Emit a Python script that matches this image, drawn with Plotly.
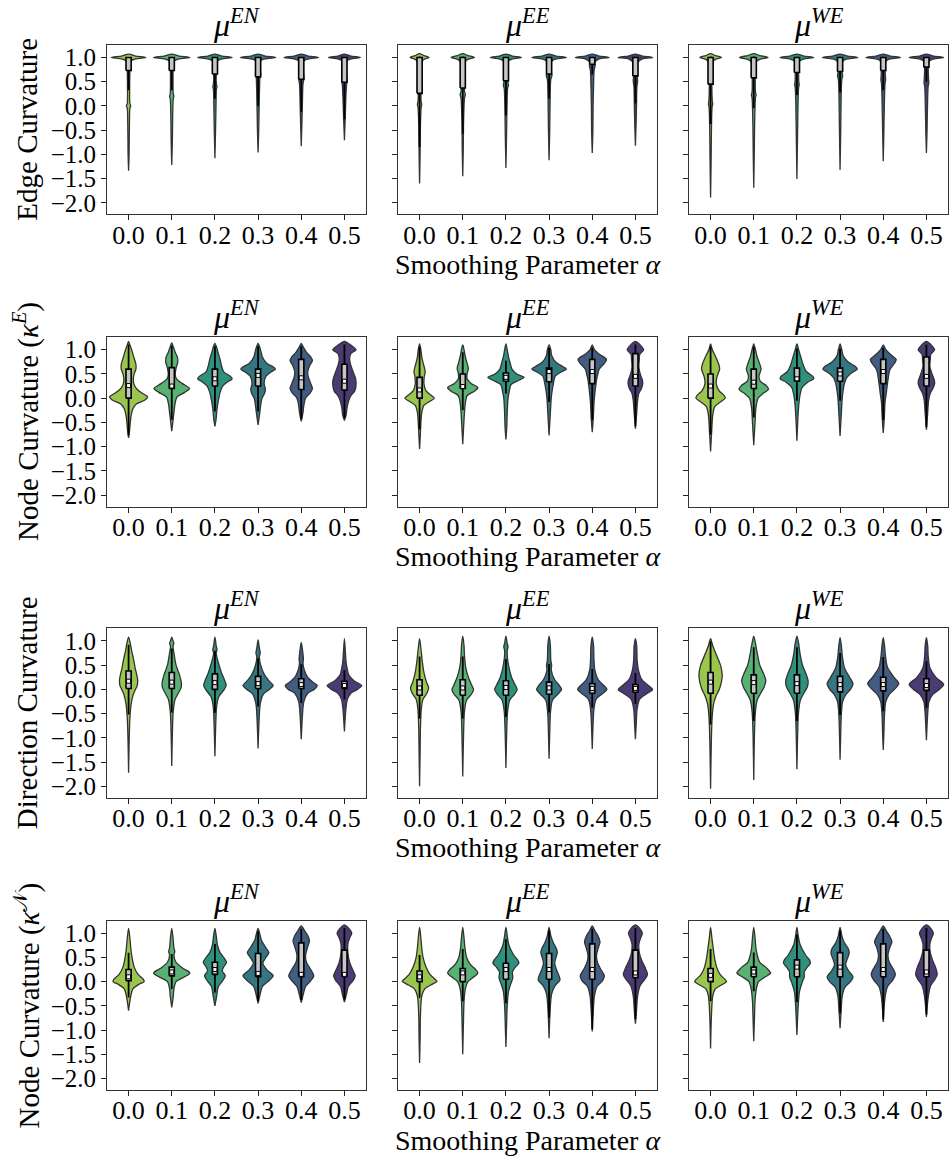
import colorsys
import plotly.graph_objects as go

W, H = 950, 1157

# ---------------- data ----------------
alphas = ["0.0", "0.1", "0.2", "0.3", "0.4", "0.5"]
row_labels = ["Edge Curvature", "Node Curvature (<i>κ</i><sup><i>E</i></sup>)",
              "Direction Curvature", "Node Curvature (<i>κ</i><sup>𝒩</sup>)"]
col_titles = ["<i>μ</i><sup><i>EN</i></sup>", "<i>μ</i><sup><i>EE</i></sup>", "<i>μ</i><sup><i>WE</i></sup>"]
ytick_vals = [-2.0, -1.5, -1.0, -0.5, 0.0, 0.5, 1.0]
ytick_text = ["−2.0", "−1.5", "−1.0", "−0.5", "0.0", "0.5", "1.0"]
base_palette = ["#a0da39", "#4ac16d", "#1fa187", "#277f8e", "#365c8d", "#46327e"]

# density profiles: (value, half-width) knots, top to bottom; quartiles [q1, median, q3]
edge_en_knots = [
    [(1.07,0),(1.03,0.16),(1.0,0.40),(0.97,0.16),(0.93,0.06),(0.86,0.035),(0.7,0.03),(0.4,0.025),(0.05,0.03),(0.0,0.05),(-0.05,0.03),(-0.35,0.02),(-0.7,0.015),(-1.0,0.012),(-1.34,0)],
    [(1.07,0),(1.03,0.17),(1.0,0.42),(0.97,0.17),(0.93,0.06),(0.86,0.035),(0.6,0.03),(0.25,0.035),(0.2,0.05),(0.15,0.035),(-0.3,0.02),(-0.7,0.015),(-1.22,0)],
    [(1.07,0),(1.03,0.16),(1.0,0.40),(0.97,0.16),(0.93,0.06),(0.85,0.04),(0.78,0.05),(0.7,0.035),(0.45,0.035),(0.4,0.05),(0.35,0.035),(0.0,0.025),(-0.5,0.015),(-1.08,0)],
    [(1.07,0),(1.03,0.16),(1.0,0.41),(0.97,0.16),(0.93,0.06),(0.8,0.045),(0.7,0.05),(0.65,0.065),(0.6,0.045),(0.4,0.035),(0.0,0.025),(-0.5,0.015),(-0.96,0)],
    [(1.07,0),(1.03,0.16),(1.0,0.40),(0.97,0.16),(0.93,0.06),(0.75,0.045),(0.6,0.06),(0.55,0.06),(0.45,0.04),(0.2,0.03),(-0.2,0.02),(-0.83,0)],
    [(1.07,0),(1.03,0.15),(1.0,0.37),(0.97,0.15),(0.93,0.06),(0.7,0.05),(0.5,0.06),(0.45,0.05),(0.2,0.035),(-0.2,0.02),(-0.71,0)],
]
edge_en_quart = [[0.73,1.0,1.0],[0.73,1.0,1.0],[0.66,1.0,1.0],[0.60,1.0,1.0],[0.55,1.0,1.0],[0.49,1.0,1.0]]

edge_ee_knots = [
    [(1.08,0),(1.04,0.10),(1.0,0.22),(0.96,0.10),(0.9,0.04),(0.7,0.03),(0.4,0.03),(0.1,0.035),(0.03,0.05),(-0.04,0.035),(-0.4,0.02),(-1.0,0.012),(-1.6,0)],
    [(1.08,0),(1.04,0.12),(1.0,0.27),(0.96,0.12),(0.9,0.045),(0.6,0.035),(0.3,0.04),(0.23,0.06),(0.16,0.04),(-0.3,0.02),(-0.9,0.012),(-1.45,0)],
    [(1.07,0),(1.03,0.15),(1.0,0.36),(0.97,0.15),(0.92,0.05),(0.6,0.04),(0.47,0.05),(0.42,0.06),(0.36,0.04),(0.0,0.025),(-0.6,0.015),(-1.28,0)],
    [(1.07,0),(1.03,0.16),(1.0,0.40),(0.97,0.16),(0.92,0.06),(0.72,0.045),(0.62,0.065),(0.55,0.04),(0.2,0.025),(-0.5,0.015),(-1.12,0)],
    [(1.07,0),(1.03,0.16),(1.0,0.39),(0.97,0.16),(0.9,0.06),(0.82,0.065),(0.75,0.045),(0.4,0.03),(0.0,0.02),(-0.5,0.015),(-0.97,0)],
    [(1.07,0),(1.03,0.16),(1.0,0.40),(0.97,0.16),(0.9,0.06),(0.6,0.045),(0.5,0.05),(0.4,0.035),(0.0,0.025),(-0.4,0.015),(-0.82,0)],
]
edge_ee_quart = [[0.26,1.0,1.0],[0.37,1.0,1.0],[0.52,1.0,1.0],[0.66,1.0,1.0],[0.86,1.0,1.0],[0.62,1.0,1.0]]

edge_we_knots = [
    [(1.08,0),(1.04,0.11),(1.0,0.25),(0.96,0.11),(0.9,0.045),(0.5,0.03),(0.1,0.04),(0.04,0.05),(-0.02,0.035),(-0.5,0.02),(-1.2,0.012),(-1.89,0)],
    [(1.08,0),(1.04,0.14),(1.0,0.33),(0.96,0.14),(0.9,0.05),(0.5,0.035),(0.28,0.04),(0.23,0.055),(0.17,0.04),(-0.4,0.02),(-1.0,0.012),(-1.69,0)],
    [(1.07,0),(1.03,0.16),(1.0,0.39),(0.97,0.16),(0.92,0.055),(0.6,0.04),(0.48,0.045),(0.44,0.055),(0.38,0.04),(0.0,0.025),(-0.6,0.015),(-1.51,0)],
    [(1.07,0),(1.03,0.17),(1.0,0.41),(0.97,0.17),(0.92,0.06),(0.7,0.045),(0.62,0.06),(0.55,0.04),(0.2,0.025),(-0.5,0.015),(-1.32,0)],
    [(1.07,0),(1.03,0.16),(1.0,0.40),(0.97,0.16),(0.92,0.06),(0.6,0.05),(0.54,0.055),(0.45,0.04),(0.0,0.025),(-0.5,0.015),(-1.14,0)],
    [(1.07,0),(1.03,0.16),(1.0,0.40),(0.97,0.16),(0.92,0.06),(0.55,0.05),(0.47,0.055),(0.4,0.04),(0.0,0.025),(-0.5,0.015),(-0.97,0)],
]
edge_we_quart = [[0.45,1.0,1.0],[0.58,1.0,1.0],[0.69,1.0,1.0],[0.71,1.0,1.0],[0.73,1.0,1.0],[0.80,1.0,1.0]]

nodeE_en_knots = [
    [(1.17,0),(1.1,0.03),(1.0,0.07),(0.85,0.12),(0.7,0.17),(0.6,0.17),(0.5,0.13),(0.4,0.11),(0.3,0.12),(0.2,0.18),(0.1,0.32),(0.03,0.44),(-0.04,0.38),(-0.12,0.18),(-0.22,0.1),(-0.35,0.06),(-0.5,0.04),(-0.65,0.025),(-0.82,0)],
    [(1.14,0),(1.05,0.04),(0.95,0.08),(0.85,0.13),(0.75,0.14),(0.62,0.10),(0.5,0.08),(0.4,0.11),(0.3,0.25),(0.2,0.41),(0.12,0.3),(0.02,0.12),(-0.15,0.07),(-0.3,0.05),(-0.45,0.03),(-0.68,0)],
    [(1.13,0),(1.05,0.04),(0.95,0.07),(0.8,0.12),(0.68,0.15),(0.55,0.2),(0.45,0.36),(0.4,0.40),(0.34,0.3),(0.25,0.18),(0.12,0.12),(0.0,0.09),(-0.15,0.06),(-0.3,0.04),(-0.45,0.025),(-0.58,0)],
    [(1.13,0),(1.05,0.04),(0.95,0.07),(0.85,0.10),(0.72,0.2),(0.64,0.36),(0.6,0.40),(0.54,0.3),(0.45,0.18),(0.3,0.14),(0.18,0.17),(0.08,0.14),(0.0,0.09),(-0.15,0.06),(-0.3,0.04),(-0.55,0)],
    [(1.13,0),(1.05,0.05),(0.95,0.12),(0.85,0.22),(0.78,0.26),(0.68,0.2),(0.55,0.15),(0.45,0.16),(0.3,0.22),(0.2,0.26),(0.1,0.2),(0.0,0.1),(-0.15,0.06),(-0.3,0.04),(-0.48,0)],
    [(1.17,0),(1.1,0.14),(1.0,0.27),(0.92,0.15),(0.82,0.12),(0.7,0.14),(0.55,0.2),(0.4,0.26),(0.28,0.27),(0.15,0.24),(0.05,0.15),(-0.05,0.1),(-0.2,0.06),(-0.35,0.04),(-0.46,0)],
]
nodeE_en_quart = [[0.0,0.26,0.6],[0.2,0.25,0.63],[0.25,0.4,0.6],[0.25,0.47,0.6],[0.18,0.42,0.8],[0.17,0.35,0.7]]

nodeE_ee_knots = [
    [(1.12,0),(1.0,0.03),(0.85,0.05),(0.7,0.09),(0.55,0.13),(0.45,0.11),(0.3,0.10),(0.15,0.15),(0.05,0.28),(0.0,0.34),(-0.06,0.25),(-0.15,0.1),(-0.3,0.05),(-0.6,0.025),(-0.8,0.015),(-1.05,0)],
    [(1.1,0),(1.0,0.03),(0.9,0.05),(0.75,0.09),(0.62,0.13),(0.5,0.10),(0.4,0.10),(0.3,0.2),(0.22,0.35),(0.15,0.28),(0.05,0.1),(-0.1,0.06),(-0.3,0.04),(-0.6,0.02),(-0.95,0)],
    [(1.12,0),(1.0,0.03),(0.85,0.06),(0.72,0.10),(0.6,0.14),(0.5,0.25),(0.43,0.42),(0.37,0.3),(0.28,0.12),(0.15,0.08),(0.0,0.05),(-0.3,0.03),(-0.6,0.02),(-0.85,0)],
    [(1.1,0),(1.0,0.04),(0.88,0.06),(0.75,0.15),(0.65,0.32),(0.6,0.40),(0.54,0.28),(0.45,0.14),(0.3,0.10),(0.15,0.07),(0.0,0.05),(-0.3,0.03),(-0.77,0)],
    [(1.1,0),(1.0,0.05),(0.92,0.14),(0.8,0.33),(0.72,0.28),(0.6,0.16),(0.5,0.13),(0.38,0.10),(0.25,0.08),(0.1,0.06),(-0.1,0.04),(-0.4,0.025),(-0.7,0)],
    [(1.17,0),(1.1,0.11),(1.0,0.19),(0.9,0.10),(0.8,0.09),(0.65,0.08),(0.5,0.11),(0.38,0.16),(0.3,0.17),(0.2,0.14),(0.1,0.08),(-0.05,0.05),(-0.3,0.03),(-0.63,0)],
]
nodeE_ee_quart = [[0.0,0.17,0.43],[0.2,0.24,0.5],[0.35,0.43,0.52],[0.34,0.55,0.62],[0.3,0.55,0.8],[0.25,0.45,0.92]]

nodeE_we_knots = [
    [(1.12,0),(1.0,0.04),(0.85,0.12),(0.7,0.19),(0.6,0.21),(0.45,0.15),(0.3,0.13),(0.15,0.2),(0.05,0.32),(0.0,0.34),(-0.07,0.24),(-0.17,0.1),(-0.35,0.05),(-0.7,0.025),(-1.1,0)],
    [(1.12,0),(1.0,0.04),(0.85,0.08),(0.7,0.14),(0.6,0.17),(0.45,0.12),(0.35,0.15),(0.25,0.3),(0.18,0.34),(0.1,0.22),(0.0,0.1),(-0.2,0.05),(-0.5,0.03),(-0.97,0)],
    [(1.12,0),(1.0,0.04),(0.85,0.09),(0.7,0.14),(0.55,0.22),(0.45,0.37),(0.4,0.39),(0.33,0.25),(0.22,0.12),(0.1,0.08),(0.0,0.06),(-0.3,0.03),(-0.88,0)],
    [(1.12,0),(1.0,0.04),(0.88,0.07),(0.75,0.18),(0.65,0.36),(0.6,0.40),(0.53,0.28),(0.42,0.15),(0.3,0.10),(0.15,0.07),(0.0,0.05),(-0.3,0.03),(-0.78,0)],
    [(1.1,0),(1.0,0.06),(0.9,0.17),(0.8,0.30),(0.72,0.26),(0.6,0.16),(0.5,0.13),(0.38,0.11),(0.25,0.09),(0.1,0.07),(-0.1,0.04),(-0.4,0.025),(-0.72,0)],
    [(1.17,0),(1.1,0.11),(1.0,0.19),(0.9,0.10),(0.8,0.09),(0.65,0.08),(0.5,0.13),(0.38,0.18),(0.3,0.19),(0.2,0.15),(0.1,0.09),(-0.05,0.05),(-0.3,0.03),(-0.65,0)],
]
nodeE_we_quart = [[0.0,0.25,0.5],[0.2,0.33,0.6],[0.35,0.4,0.62],[0.35,0.5,0.62],[0.3,0.55,0.8],[0.25,0.45,0.85]]

dir_en_knots = [
    [(1.08,0),(0.95,0.04),(0.8,0.07),(0.6,0.12),(0.45,0.15),(0.3,0.19),(0.2,0.21),(0.08,0.2),(0.0,0.16),(-0.1,0.11),(-0.3,0.06),(-0.6,0.03),(-1.0,0.015),(-1.72,0)],
    [(1.08,0),(1.0,0.03),(0.95,0.05),(0.9,0.03),(0.7,0.06),(0.5,0.10),(0.3,0.18),(0.15,0.22),(0.05,0.22),(-0.05,0.17),(-0.2,0.08),(-0.45,0.035),(-0.9,0.015),(-1.58,0)],
    [(1.08,0),(0.9,0.03),(0.82,0.05),(0.75,0.03),(0.55,0.08),(0.35,0.15),(0.2,0.22),(0.08,0.26),(-0.02,0.2),(-0.15,0.09),(-0.35,0.04),(-0.7,0.02),(-1.38,0)],
    [(1.02,0),(0.85,0.03),(0.75,0.05),(0.68,0.03),(0.5,0.06),(0.3,0.15),(0.18,0.25),(0.08,0.35),(0.0,0.26),(-0.1,0.12),(-0.3,0.05),(-0.6,0.025),(-1.22,0)],
    [(0.97,0),(0.8,0.03),(0.62,0.05),(0.55,0.04),(0.4,0.07),(0.25,0.15),(0.15,0.27),(0.08,0.37),(0.0,0.3),(-0.08,0.15),(-0.25,0.06),(-0.5,0.03),(-1.03,0)],
    [(1.05,0),(0.8,0.02),(0.55,0.04),(0.45,0.06),(0.3,0.10),(0.18,0.22),(0.08,0.40),(0.0,0.3),(-0.08,0.15),(-0.2,0.07),(-0.4,0.035),(-0.87,0)],
]
dir_en_quart = [[0.02,0.17,0.38],[0.02,0.15,0.35],[0.0,0.14,0.32],[0.02,0.12,0.27],[0.02,0.10,0.22],[0.02,0.08,0.17]]

dir_ee_knots = [
    [(1.05,0),(0.85,0.03),(0.6,0.06),(0.35,0.10),(0.15,0.16),(0.03,0.21),(-0.08,0.17),(-0.2,0.08),(-0.4,0.04),(-0.8,0.02),(-1.3,0.012),(-2.0,0)],
    [(1.1,0),(0.9,0.03),(0.7,0.04),(0.45,0.07),(0.25,0.13),(0.1,0.2),(0.0,0.25),(-0.1,0.2),(-0.22,0.09),(-0.45,0.04),(-0.9,0.02),(-1.8,0)],
    [(1.1,0),(0.95,0.03),(0.88,0.05),(0.8,0.03),(0.5,0.06),(0.25,0.13),(0.1,0.21),(0.0,0.26),(-0.1,0.2),(-0.22,0.09),(-0.45,0.04),(-0.9,0.018),(-1.62,0)],
    [(1.1,0),(0.9,0.03),(0.6,0.04),(0.5,0.06),(0.4,0.05),(0.2,0.13),(0.08,0.24),(0.0,0.29),(-0.1,0.2),(-0.22,0.08),(-0.45,0.035),(-0.8,0.018),(-1.43,0)],
    [(1.08,0),(0.9,0.03),(0.6,0.04),(0.4,0.06),(0.2,0.14),(0.08,0.27),(0.0,0.34),(-0.08,0.25),(-0.2,0.09),(-0.4,0.04),(-0.7,0.02),(-1.23,0)],
    [(1.05,0),(0.9,0.03),(0.6,0.04),(0.4,0.07),(0.2,0.15),(0.08,0.3),(0.0,0.40),(-0.08,0.28),(-0.2,0.10),(-0.4,0.04),(-0.7,0.02),(-1.03,0)],
]
dir_ee_quart = [[-0.12,0.03,0.2],[-0.12,0.03,0.2],[-0.12,0.04,0.18],[-0.1,0.03,0.15],[-0.08,0.02,0.12],[-0.06,0.02,0.10]]

dir_we_knots = [
    [(1.05,0),(0.9,0.05),(0.7,0.14),(0.5,0.23),(0.3,0.27),(0.15,0.25),(0.0,0.2),(-0.15,0.12),(-0.3,0.07),(-0.6,0.035),(-1.2,0.015),(-2.05,0)],
    [(1.1,0),(0.95,0.04),(0.75,0.08),(0.5,0.14),(0.3,0.24),(0.18,0.28),(0.05,0.24),(-0.08,0.16),(-0.22,0.08),(-0.5,0.035),(-1.0,0.015),(-1.87,0)],
    [(1.1,0),(0.95,0.04),(0.75,0.07),(0.5,0.13),(0.3,0.22),(0.17,0.26),(0.05,0.24),(-0.08,0.16),(-0.22,0.08),(-0.5,0.035),(-1.0,0.015),(-1.65,0)],
    [(1.07,0),(0.9,0.03),(0.7,0.05),(0.45,0.10),(0.25,0.22),(0.12,0.30),(0.0,0.24),(-0.1,0.14),(-0.25,0.06),(-0.5,0.03),(-0.9,0.015),(-1.45,0)],
    [(1.07,0),(0.9,0.03),(0.7,0.05),(0.45,0.10),(0.25,0.25),(0.12,0.36),(0.0,0.26),(-0.1,0.14),(-0.25,0.06),(-0.5,0.03),(-0.9,0.015),(-1.25,0)],
    [(1.07,0),(0.9,0.03),(0.7,0.04),(0.45,0.08),(0.25,0.22),(0.1,0.40),(0.0,0.3),(-0.1,0.15),(-0.25,0.06),(-0.5,0.03),(-1.05,0)],
]
dir_we_quart = [[-0.08,0.15,0.35],[-0.08,0.14,0.3],[-0.08,0.12,0.3],[-0.05,0.10,0.27],[-0.03,0.10,0.25],[-0.02,0.08,0.22]]

nodeN_en_knots = [
    [(1.1,0),(0.9,0.03),(0.7,0.05),(0.5,0.08),(0.3,0.13),(0.15,0.22),(0.05,0.34),(0.0,0.36),(-0.05,0.25),(-0.15,0.10),(-0.3,0.05),(-0.6,0)],
    [(1.1,0),(0.9,0.03),(0.7,0.05),(0.62,0.07),(0.55,0.05),(0.4,0.10),(0.28,0.25),(0.18,0.42),(0.1,0.3),(0.0,0.10),(-0.15,0.05),(-0.3,0.035),(-0.53,0)],
    [(1.1,0),(0.95,0.03),(0.75,0.06),(0.6,0.12),(0.48,0.22),(0.4,0.27),(0.3,0.2),(0.22,0.17),(0.12,0.24),(0.02,0.18),(-0.1,0.08),(-0.3,0.04),(-0.5,0)],
    [(1.1,0),(0.95,0.05),(0.85,0.08),(0.7,0.18),(0.6,0.25),(0.5,0.18),(0.38,0.11),(0.25,0.2),(0.12,0.35),(0.02,0.25),(-0.1,0.10),(-0.25,0.05),(-0.45,0)],
    [(1.15,0),(1.05,0.08),(0.95,0.15),(0.85,0.19),(0.72,0.15),(0.55,0.10),(0.4,0.12),(0.25,0.22),(0.12,0.29),(0.02,0.22),(-0.1,0.10),(-0.25,0.05),(-0.43,0)],
    [(1.17,0),(1.1,0.10),(1.0,0.17),(0.9,0.12),(0.78,0.08),(0.6,0.08),(0.4,0.12),(0.25,0.19),(0.12,0.25),(0.02,0.2),(-0.1,0.09),(-0.25,0.05),(-0.42,0)],
]
nodeN_en_quart = [[0.02,0.10,0.25],[0.12,0.2,0.3],[0.15,0.25,0.4],[0.1,0.17,0.58],[0.1,0.15,0.8],[0.1,0.15,0.65]]

nodeN_ee_knots = [
    [(1.12,0),(0.9,0.03),(0.7,0.05),(0.5,0.08),(0.3,0.15),(0.15,0.24),(0.03,0.38),(0.0,0.40),(-0.05,0.3),(-0.15,0.12),(-0.3,0.05),(-0.7,0.02),(-1.2,0.012),(-1.68,0)],
    [(1.12,0),(0.9,0.03),(0.7,0.05),(0.5,0.09),(0.35,0.18),(0.25,0.3),(0.18,0.35),(0.1,0.26),(0.0,0.12),(-0.15,0.06),(-0.4,0.03),(-0.9,0.015),(-1.5,0)],
    [(1.12,0),(0.95,0.03),(0.75,0.07),(0.55,0.18),(0.45,0.27),(0.38,0.30),(0.3,0.22),(0.2,0.15),(0.08,0.16),(-0.05,0.11),(-0.2,0.06),(-0.5,0.03),(-0.9,0.015),(-1.35,0)],
    [(1.12,0),(0.95,0.04),(0.8,0.10),(0.68,0.17),(0.6,0.19),(0.5,0.16),(0.38,0.13),(0.25,0.17),(0.1,0.24),(0.03,0.25),(-0.08,0.14),(-0.25,0.06),(-0.6,0.025),(-1.17,0)],
    [(1.15,0),(1.05,0.06),(0.95,0.13),(0.82,0.18),(0.7,0.14),(0.55,0.10),(0.4,0.12),(0.25,0.2),(0.12,0.28),(0.02,0.24),(-0.1,0.11),(-0.3,0.05),(-0.6,0.025),(-1.03,0)],
    [(1.17,0),(1.1,0.10),(1.0,0.16),(0.9,0.12),(0.78,0.08),(0.6,0.09),(0.45,0.14),(0.3,0.22),(0.15,0.28),(0.05,0.22),(-0.08,0.11),(-0.3,0.05),(-0.6,0.025),(-0.87,0)],
]
nodeN_ee_quart = [[0.0,0.10,0.22],[0.0,0.18,0.27],[0.05,0.25,0.38],[0.05,0.25,0.58],[0.05,0.25,0.78],[0.08,0.18,0.65]]

nodeN_we_knots = [
    [(1.12,0),(0.9,0.03),(0.7,0.06),(0.5,0.09),(0.3,0.14),(0.15,0.22),(0.03,0.35),(0.0,0.37),(-0.06,0.27),(-0.15,0.11),(-0.3,0.05),(-0.7,0.02),(-1.38,0)],
    [(1.12,0),(0.9,0.03),(0.7,0.05),(0.55,0.08),(0.4,0.14),(0.28,0.3),(0.18,0.39),(0.1,0.27),(0.0,0.11),(-0.15,0.06),(-0.4,0.03),(-0.8,0.015),(-1.23,0)],
    [(1.12,0),(0.95,0.03),(0.75,0.08),(0.55,0.2),(0.45,0.29),(0.38,0.31),(0.3,0.24),(0.2,0.17),(0.1,0.17),(-0.02,0.12),(-0.2,0.06),(-0.5,0.03),(-1.1,0)],
    [(1.12,0),(0.95,0.04),(0.8,0.10),(0.68,0.19),(0.58,0.21),(0.48,0.17),(0.35,0.13),(0.22,0.2),(0.1,0.30),(0.0,0.24),(-0.12,0.11),(-0.3,0.05),(-0.6,0.025),(-0.96,0)],
    [(1.15,0),(1.05,0.07),(0.95,0.14),(0.82,0.2),(0.7,0.15),(0.55,0.11),(0.4,0.14),(0.25,0.24),(0.15,0.28),(0.03,0.22),(-0.1,0.10),(-0.3,0.045),(-0.83,0)],
    [(1.17,0),(1.1,0.10),(1.0,0.16),(0.9,0.12),(0.78,0.08),(0.6,0.09),(0.45,0.14),(0.3,0.21),(0.15,0.25),(0.05,0.2),(-0.08,0.10),(-0.3,0.045),(-0.73,0)],
]
nodeN_we_quart = [[0.0,0.13,0.27],[0.1,0.2,0.3],[0.1,0.3,0.45],[0.1,0.3,0.6],[0.1,0.25,0.78],[0.1,0.2,0.65]]

panels = [
    [(edge_en_knots, edge_en_quart), (edge_ee_knots, edge_ee_quart), (edge_we_knots, edge_we_quart)],
    [(nodeE_en_knots, nodeE_en_quart), (nodeE_ee_knots, nodeE_ee_quart), (nodeE_we_knots, nodeE_we_quart)],
    [(dir_en_knots, dir_en_quart), (dir_ee_knots, dir_ee_quart), (dir_we_knots, dir_we_quart)],
    [(nodeN_en_knots, nodeN_en_quart), (nodeN_ee_knots, nodeN_ee_quart), (nodeN_we_knots, nodeN_we_quart)],
]

# ---------------- style ----------------
def desaturate(hexc, prop=0.75):
    r, g, b = (int(hexc[i:i + 2], 16) / 255 for i in (1, 3, 5))
    h, l, s = colorsys.rgb_to_hls(r, g, b)
    r, g, b = colorsys.hls_to_rgb(h, l, s * prop)
    return "#%02x%02x%02x" % (round(r * 255), round(g * 255), round(b * 255))

palette = [desaturate(c) for c in base_palette]

FONT = "Liberation Serif"
BOX_HW = 0.06
col_px = [(107, 366), (398, 657), (689, 948)]
row_px = [(44, 214), (337, 507), (629, 799), (922, 1092)]

fig = go.Figure()
layout = dict(width=W, height=H, margin=dict(l=0, r=0, t=0, b=0),
              paper_bgcolor="white", plot_bgcolor="white", showlegend=False,
              font=dict(family=FONT, color="black"))
annotations = []

for r in range(4):
    for c in range(3):
        idx = r * 3 + c + 1
        sfx = "" if idx == 1 else str(idx)
        ax = dict(xaxis="x" + sfx, yaxis="y" + sfx)
        knots_list, quarts = panels[r][c]
        for i, knots in enumerate(knots_list):
            ys = [k[0] for k in knots]
            xs_r = [i + k[1] for k in knots]
            xs_l = [i - k[1] for k in knots]
            fig.add_trace(go.Scatter(
                x=xs_r + xs_l[::-1], y=ys + ys[::-1], mode="lines",
                line=dict(color="#333333", width=1.3, shape="spline", smoothing=0.8),
                fill="toself", fillcolor=palette[i], hoverinfo="skip", **ax))
        # inner box: whisker (1.5 IQR, clipped to data span), IQR box, median
        wx, wy, bx, by, mx, my = [], [], [], [], [], []
        for i, knots in enumerate(knots_list):
            q1, med, q3 = quarts[i]
            iqr = q3 - q1
            lo = max(q1 - 1.5 * iqr, knots[-1][0] + 0.05)
            hi = max(q3, min(q3 + 1.5 * iqr, knots[0][0] - 0.06))
            wx += [i, i, None]
            wy += [lo, hi, None]
            bx += [i - BOX_HW, i + BOX_HW, i + BOX_HW, i - BOX_HW, i - BOX_HW, None]
            by += [q1, q1, q3, q3, q1, None]
            if med < q3:
                mx.append(i)
                my.append(med)
        fig.add_trace(go.Scatter(x=wx, y=wy, mode="lines",
                                 line=dict(color="black", width=1.8),
                                 hoverinfo="skip", **ax))
        fig.add_trace(go.Scatter(x=bx, y=by, mode="lines", fill="toself",
                                 fillcolor="#c6c6c6", line=dict(color="black", width=1.6),
                                 hoverinfo="skip", **ax))
        fig.add_trace(go.Scatter(x=mx, y=my, mode="markers",
                                 marker=dict(symbol="square", size=4, color="white",
                                             line=dict(color="black", width=1)),
                                 hoverinfo="skip", **ax))

        x0, x1 = col_px[c]
        y0, y1 = row_px[r]
        layout["xaxis" + sfx] = dict(
            domain=[x0 / W, x1 / W], anchor="y" + sfx, range=[-0.5, 5.5],
            tickmode="array", tickvals=list(range(6)), ticktext=alphas,
            ticks="outside", ticklen=5, tickwidth=1, tickcolor="#222",
            ticklabelstandoff=-8,
            tickfont=dict(family=FONT, size=26, color="black"),
            showline=True, linecolor="#333", linewidth=1, mirror=True,
            showgrid=False, zeroline=False)
        layout["yaxis" + sfx] = dict(
            domain=[1 - y1 / H, 1 - y0 / H], anchor="x" + sfx, range=[-2.24, 1.26],
            tickmode="array", tickvals=ytick_vals, ticktext=ytick_text,
            showticklabels=(c == 0),
            ticks="outside", ticklen=5, tickwidth=1, tickcolor="#222",
            tickfont=dict(family=FONT, size=25, color="black"),
            showline=True, linecolor="#333", linewidth=1, mirror=True,
            showgrid=False, zeroline=False)
        annotations.append(dict(
            text=col_titles[c], xref="paper", yref="paper",
            x=(x0 + x1) / 2 / W, y=1 - y0 / H, xanchor="center", yanchor="bottom",
            yshift=0, showarrow=False, font=dict(family=FONT, size=32, color="black")))
    annotations.append(dict(
        text=row_labels[r], xref="paper", yref="paper", textangle=-90,
        x=27 / W, y=1 - (row_px[r][0] + row_px[r][1]) / 2 / H,
        xanchor="center", yanchor="middle", showarrow=False,
        font=dict(family=FONT, size=29, color="black")))
    annotations.append(dict(
        text="Smoothing Parameter <i>α</i>", xref="paper", yref="paper",
        x=(col_px[1][0] + col_px[1][1]) / 2 / W, y=1 - (row_px[r][1] + 50) / H,
        xanchor="center", yanchor="middle", showarrow=False,
        font=dict(family=FONT, size=28, color="black")))

layout["annotations"] = annotations
fig.update_layout(**layout)
fig.write_html("out.html")
